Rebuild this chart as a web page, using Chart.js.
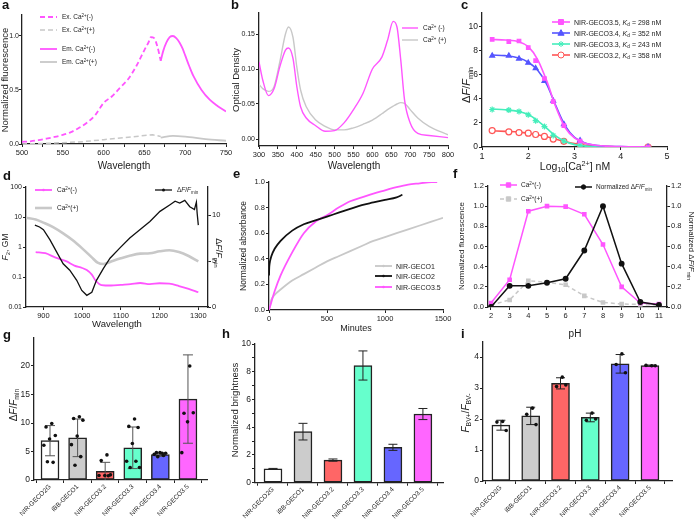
<!DOCTYPE html>
<html><head><meta charset="utf-8">
<script src="https://cdn.jsdelivr.net/npm/chart.js"></script>
<style>
html,body{margin:0;padding:0;background:#fff;}
#fig{position:relative;width:696px;height:522px;overflow:hidden;background:#fff;}
.lt{position:absolute;font:bold 13px "Liberation Sans",Arial,sans-serif;color:#111;line-height:13px;}
</style></head><body><div id="fig"></div>
<script>
// ---- a: excitation / emission ----
const aExWl = [500,510,520,530,540,550,560,570,580,590,600,610,620,630,640,650,655,658,662,666,670];
const aExMinus = [0.02,0.025,0.035,0.05,0.065,0.085,0.11,0.15,0.2,0.27,0.38,0.44,0.52,0.6,0.72,0.87,0.94,0.99,0.98,0.9,0.77];
const aExPlusWl = [500,525,550,575,600,625,650,660,670];
const aExPlus = [0.0,0.005,0.012,0.022,0.04,0.058,0.078,0.085,0.07];
const aEmWl = [670,673,677,681,685,689,693,697,700,705,710,720,730,740,750];
const aEmMinus = [0.77,0.86,0.94,0.99,1.0,0.98,0.94,0.88,0.82,0.72,0.63,0.5,0.41,0.35,0.3];
const aEmPlusWl = [670,685,700,725,750];
const aEmPlus = [0.06,0.075,0.068,0.045,0.03];
const aXTicks = [500,525,550,575,600,625,650,675,700,725,750];
const aYTicks = [0,0.5,1.0];

// ---- b: absorbance ----
const bWl = [300,310,325,340,355,370,378,390,400,410,425,450,475,500,525,550,575,600,625,640,655,665,675,685,700,720,750,800];
const bMinus = [0.11,0.084,0.062,0.072,0.103,0.127,0.13,0.115,0.075,0.046,0.03,0.019,0.011,0.012,0.023,0.042,0.065,0.10,0.117,0.141,0.168,0.16,0.113,0.056,0.023,0.008,0.005,0.002];
const bPlus = [0.078,0.072,0.068,0.075,0.11,0.15,0.16,0.145,0.103,0.07,0.046,0.027,0.018,0.013,0.013,0.016,0.021,0.027,0.036,0.042,0.047,0.05,0.052,0.051,0.042,0.03,0.018,0.006];
const bXTicks = [300,350,400,450,500,550,600,650,700,750,800];
const bYTicks = [0,0.05,0.1,0.15];

// ---- c: calcium titration ----
const cLog = [1.22,1.58,1.8,2.0,2.16,2.35,2.54,2.77,3.12,4.59];
const c35 = [8.96,8.77,8.82,8.27,7.18,5.7,3.78,1.78,0.49,0.0];
const c34 = [7.6,7.6,7.35,7.0,6.55,5.5,3.85,1.9,0.55,0.0];
const c33 = [3.12,3.07,2.96,2.68,2.19,1.7,0.96,0.5,0.14,0.0];
const c32 = [1.37,1.26,1.2,1.15,1.04,0.88,0.66,0.47,0.22,0.0];
const cFitX = [1.22,1.5,1.8,2.0,2.2,2.4,2.6,2.8,3.0,3.2,3.5,4.0,4.6];
const cFit35 = [8.95,8.9,8.75,8.35,7.3,5.5,3.3,1.6,0.75,0.35,0.12,0.03,0.0];
const cFit34 = [7.65,7.6,7.4,7.05,6.4,5.2,3.4,1.75,0.8,0.38,0.12,0.03,0.0];
const cFit33 = [3.15,3.1,2.95,2.7,2.2,1.55,0.9,0.45,0.2,0.09,0.03,0.01,0.0];
const cFit32 = [1.35,1.3,1.24,1.15,1.02,0.85,0.64,0.45,0.28,0.17,0.07,0.02,0.0];
const cXTicks = [1,2,3,4,5];
const cYTicks = [0,2,4,6,8,10];

// ---- d: two-photon ----
const dWlMinus = [880,905,930,960,980,1000,1012,1025,1035,1050,1075,1100,1125,1150,1175,1200,1225,1250,1275,1300];
const dMinus = [0.68,0.62,0.45,0.33,0.24,0.2,0.17,0.12,0.075,0.054,0.052,0.055,0.058,0.063,0.058,0.062,0.06,0.05,0.04,0.031];
const dWlPlus = [855,880,900,925,950,975,1000,1025,1040,1055,1075,1100,1125,1150,1175,1200,1225,1250,1275,1300];
const dPlus = [9.5,8.3,6.5,4.6,2.9,1.7,0.9,0.45,0.3,0.27,0.33,0.42,0.52,0.6,0.62,0.72,0.78,0.68,0.5,0.33];
const dWlRatio = [878,890,900,917,934,951,968,986,999,1012,1025,1037,1055,1072,1097,1123,1149,1175,1201,1226,1240,1252,1265,1278,1290,1295,1297,1300];
const dRatio = [8.9,8.7,8.4,7.3,6.0,4.7,4.0,2.9,1.8,1.27,1.6,2.9,4.2,5.3,6.4,7.5,8.4,9.3,10.4,11.1,11.5,11.3,11.6,10.9,10.6,11.4,10.2,8.9];
const dXTicks = [900,1000,1100,1200,1300];
const dYTicks = [0.01,0.1,1,10,100];
const dY2Ticks = [0,5,10];

// ---- e: maturation ----
const eMin1 = [0,20,50,100,200,300,400,500,600,700,800,900,1000,1100,1200,1300,1400,1500];
const eGeco1 = [0,0.08,0.12,0.16,0.23,0.28,0.33,0.38,0.42,0.46,0.5,0.54,0.57,0.6,0.63,0.66,0.69,0.72];
const eMin2 = [0,2,5,20,50,100,200,300,400,500,600,700,800,900,1000,1100,1150];
const eGeco2 = [0.27,0.33,0.36,0.42,0.48,0.54,0.62,0.67,0.70,0.73,0.76,0.79,0.82,0.84,0.86,0.88,0.9];
const eMin35 = [0,50,100,200,300,400,500,600,700,800,900,1000,1100,1200,1300,1400,1450];
const eGeco35 = [0,0.15,0.27,0.45,0.6,0.69,0.74,0.8,0.85,0.88,0.91,0.935,0.96,0.98,0.99,1.0,1.0];
const eXTicks = [0,500,1000,1500];
const eYTicks = [0,0.2,0.4,0.6,0.8,1.0];

// ---- f: pH ----
const fPH = [2,3,4,5,6,7,8,9,10,11];
const fMinus = [0.04,0.27,0.95,1.0,0.995,0.92,0.62,0.2,0.04,0.03];
const fPlus = [0.02,0.07,0.26,0.245,0.22,0.11,0.045,0.03,0.025,0.02];
const fRatio = [0.0,0.21,0.21,0.24,0.28,0.56,1.0,0.43,0.05,0.02];
const fYTicks = [0,0.2,0.4,0.6,0.8,1.0,1.2];

// ---- g/h/i: variants ----
const cats = ['NIR-GECO2G','iBB-GECO1','NIR-GECO3.2','NIR-GECO3.3','NIR-GECO3.4','NIR-GECO3.5'];
const gMean = [6.9,7.4,1.5,5.65,4.45,14.2];
const gSd = [2.65,3.3,1.6,3.65,0.3,7.75];
const gDots = [[9.9,9.3,7.8,7.2,6.1,3.1,3.2],[11.1,10.8,10.5,7.7,6.2,4.1,2.6],[4.4,3.4,0.9,0.8,0.8,0.75],
  [10.7,9.4,9.2,6.4,3.3,3.3,2.2,2.2],[4.7,4.8,4.7,4.8,4.5,4.3,4.1],[20.0,11.7,11.8,10.2,4.8]];
const gYTicks = [0,5,10,15,20];
const hMean = [1.0,3.68,1.63,8.45,2.55,4.95];
const hSd = [0.03,0.6,0.08,1.05,0.22,0.4];
const hYTicks = [0,1,2,3,4,5,6,7,8,9,10];
const iMean = [1.8,2.1,3.15,2.05,3.78,3.72];
const iSd = [0.16,0.28,0.18,0.14,0.3,0.02];
const iDots = [[1.92,1.9,1.63],[2.35,2.15,1.82],[3.35,3.05,3.1],[2.19,1.96,2.0],[4.1,3.76,3.49],[3.72,3.73,3.72]];
const iYTicks = [0,1,2,3,4];

const INK = '#222';
const MAG = '#ff55ff', GRY = '#c8c8c8', BLUE = '#5555ff', GRN = '#44eebb', RED = '#ff5555';
const BARS = ['#ffffff','#cccccc','#ff6666','#66ffcc','#6666ff','#ff66ff'];
const FONT = '"Liberation Sans", Arial, sans-serif';
const fig = document.getElementById('fig');

Chart.defaults.font.family = FONT;
Chart.defaults.color = INK;
Chart.defaults.elements.point.radius = 0;
Chart.defaults.elements.line.tension = 0;
Chart.defaults.plugins.legend.display = false;
Chart.defaults.plugins.tooltip.enabled = false;

const xy = (xs, ys) => xs.map((x, i) => ({x, y: ys[i]}));
const idx = cats.map((c, i) => i);
const f1 = v => v.toFixed(1), f2 = v => v.toFixed(2), fs = v => String(v);

function ax(pos, min, max, ticks, label, extra, tickExtra) {
  return Object.assign({
    type: 'linear', position: pos, min, max,
    afterBuildTicks: s => { s.ticks = ticks.map(v => ({value: v})); },
    grid: {drawOnChartArea: false, tickLength: 3, color: INK, lineWidth: 1},
    border: {color: INK, width: 1.3},
    ticks: Object.assign({color: INK, font: {size: 7.5}, padding: 1, maxRotation: 0, minRotation: 0, autoSkip: false, callback: label}, tickExtra || {})
  }, extra || {});
}

function parseRich(s) {
  const segs = []; let it = false, i = 0, buf = '';
  const push = (t, mode) => { if (t) segs.push({t, it, mode}); };
  while (i < s.length) {
    const c = s[i];
    if (c === '*') { push(buf, 0); buf = ''; it = !it; i++; }
    else if ((c === '^' || c === '_') && s[i + 1] === '{') {
      push(buf, 0); buf = '';
      const j = s.indexOf('}', i);
      push(s.slice(i + 2, j), c === '^' ? 1 : -1);
      i = j + 1;
    } else { buf += c; i++; }
  }
  push(buf, 0);
  return segs;
}

function rich(ctx, s, x, y, size, rot, align) {
  const segs = parseRich(s);
  const fontOf = g => (g.it ? 'italic ' : '') + (g.mode ? size * 0.68 : size) + 'px ' + FONT;
  ctx.save();
  ctx.translate(x, y); ctx.rotate(rot);
  ctx.textBaseline = 'alphabetic'; ctx.fillStyle = INK;
  let w = 0;
  segs.forEach(g => { ctx.font = fontOf(g); g.w = ctx.measureText(g.t).width; w += g.w; });
  let cx = align === 'left' ? 0 : -w / 2;
  const base = size * 0.36;
  segs.forEach(g => {
    ctx.font = fontOf(g);
    ctx.fillText(g.t, cx, base + (g.mode === 1 ? -size * 0.38 : g.mode === -1 ? size * 0.24 : 0));
    cx += g.w;
  });
  ctx.restore();
}

function marker(ctx, style, x, y, r) {
  ctx.beginPath();
  if (style === 'rect') ctx.rect(x - r, y - r, 2 * r, 2 * r);
  else if (style === 'triangle') { ctx.moveTo(x, y - r * 1.2); ctx.lineTo(x + r * 1.1, y + r * 0.8); ctx.lineTo(x - r * 1.1, y + r * 0.8); ctx.closePath(); }
  else if (style === 'star') {
    const d = r * 0.7;
    ctx.moveTo(x - r, y); ctx.lineTo(x + r, y); ctx.moveTo(x, y - r); ctx.lineTo(x, y + r);
    ctx.moveTo(x - d, y - d); ctx.lineTo(x + d, y + d); ctx.moveTo(x - d, y + d); ctx.lineTo(x + d, y - d);
    ctx.stroke(); return;
  }
  else ctx.arc(x, y, r, 0, Math.PI * 2);
  ctx.fill(); ctx.stroke();
}

function legendItem(chart, it, box) {
  const ctx = chart.ctx, ds = chart.data.datasets[it.ds];
  const pd = chart.data.datasets[it.pt != null ? it.pt : it.ds];
  const x = it.x - box.x, y = it.y - box.y, len = it.len || 17;
  ctx.save();
  ctx.strokeStyle = ds.borderColor; ctx.lineWidth = ds.borderWidth || 1.5;
  ctx.setLineDash(ds.borderDash || []);
  ctx.beginPath(); ctx.moveTo(x, y); ctx.lineTo(x + len, y); ctx.stroke();
  ctx.setLineDash([]);
  if (pd.pointRadius > 0) {
    ctx.fillStyle = pd.pointBackgroundColor || pd.borderColor;
    ctx.strokeStyle = pd.pointBorderColor || pd.borderColor;
    ctx.lineWidth = 1;
    marker(ctx, pd.pointStyle || 'circle', x + len / 2, y, pd.pointRadius);
  } else if (it.dot) {
    ctx.fillStyle = ds.borderColor;
    ctx.beginPath(); ctx.arc(x + len / 2, y, it.dot, 0, Math.PI * 2); ctx.fill();
  }
  ctx.restore();
  rich(ctx, it.s, x + len + (it.gap || 5), y, it.size || 6.5, 0, 'left');
}

function decor(box, texts, legend) {
  return {
    id: 'decor',
    afterDraw(chart) {
      legend.forEach(it => legendItem(chart, it, box));
      texts.forEach(t => rich(chart.ctx, t.s, t.x - box.x, t.y - box.y, t.size, t.rot || 0, 'center'));
    }
  };
}

function barExtras(means, sds, dots, color, capW) {
  return {
    id: 'barExtras',
    afterDatasetsDraw(chart) {
      const {ctx, scales: {x, y}} = chart;
      ctx.save();
      ctx.strokeStyle = color; ctx.lineWidth = 1;
      means.forEach((m, i) => {
        const px = x.getPixelForValue(i), top = y.getPixelForValue(m + sds[i]);
        const lo = m - sds[i], bot = y.getPixelForValue(Math.max(lo, 0));
        ctx.beginPath();
        ctx.moveTo(px, top); ctx.lineTo(px, bot);
        ctx.moveTo(px - capW / 2, top); ctx.lineTo(px + capW / 2, top);
        if (lo > 0) { ctx.moveTo(px - capW / 2, bot); ctx.lineTo(px + capW / 2, bot); }
        ctx.stroke();
      });
      ctx.fillStyle = '#111';
      (dots || []).forEach((vals, i) => vals.forEach((v, k) => {
        const off = (((k + 1) * 0.618) % 1 - 0.5) * 15;
        ctx.beginPath();
        ctx.arc(x.getPixelForValue(i) + off, y.getPixelForValue(v), 1.8, 0, Math.PI * 2);
        ctx.fill();
      }));
      ctx.restore();
    }
  };
}

function panel(box, area, cfg, texts, legend, extra) {
  const cv = document.createElement('canvas');
  cv.width = box.w; cv.height = box.h;
  cv.style.cssText = `position:absolute;left:${box.x}px;top:${box.y}px;width:${box.w}px;height:${box.h}px;`;
  fig.appendChild(cv);
  const sc = cfg.options.scales;
  const hasRight = Object.values(sc).some(s => s.position === 'right');
  Object.values(sc).forEach(s => {
    s.afterFit = scale => {
      if (scale.isHorizontal()) scale.height = box.y + box.h - area.b;
      else if (scale.position === 'right') scale.width = box.x + box.w - area.r;
      else scale.width = area.l - box.x;
      scale.paddingLeft = 0; scale.paddingRight = 0; scale.paddingTop = 0; scale.paddingBottom = 0;
    };
  });
  cfg.options.layout = {padding: {top: area.t - box.y, left: 0, bottom: 0, right: hasRight ? 0 : box.x + box.w - area.r}};
  cfg.options.responsive = false;
  cfg.options.animation = false;
  cfg.options.devicePixelRatio = 1;
  cfg.plugins = [decor(box, texts || [], legend || [])].concat(extra || []);
  return new Chart(cv, cfg);
}

function letter(ch, x, base) {
  const d = document.createElement('div');
  d.className = 'lt'; d.textContent = ch;
  d.style.left = x + 'px'; d.style.top = (base - 11) + 'px';
  fig.appendChild(d);
}

// a
panel({x: 0, y: 0, w: 232, h: 172}, {l: 22, t: 14.4, r: 226, b: 144}, {
  type: 'line',
  data: {datasets: [
    {data: xy(aExWl, aExMinus), borderColor: MAG, borderWidth: 1.8, borderDash: [5, 3], cubicInterpolationMode: 'monotone'},
    {data: xy(aExPlusWl, aExPlus), borderColor: GRY, borderWidth: 1.5, borderDash: [5, 3]},
    {data: xy(aEmWl, aEmMinus), borderColor: MAG, borderWidth: 1.8, cubicInterpolationMode: 'monotone'},
    {data: xy(aEmPlusWl, aEmPlus), borderColor: GRY, borderWidth: 1.8, cubicInterpolationMode: 'monotone'}
  ]},
  options: {scales: {
    x: ax('bottom', 500, 750, aXTicks, v => v % 50 === 0 ? v : ''),
    y: ax('left', 0, 1.2, aYTicks, f1, null, {font: {size: 7}, padding: 0})
  }}
}, [
  {s: 'Normalized fluorescence', x: 4.5, y: 80, size: 9.5, rot: -Math.PI / 2},
  {s: 'Wavelength', x: 124, y: 165, size: 10}
], [
  {ds: 0, x: 40, y: 17, s: 'Ex. Ca^{2+}(-)'},
  {ds: 1, x: 40, y: 30, s: 'Ex. Ca^{2+}(+)'},
  {ds: 2, x: 40, y: 49, s: 'Em. Ca^{2+}(-)'},
  {ds: 3, x: 40, y: 62, s: 'Em. Ca^{2+}(+)'}
]);

// b
panel({x: 228, y: 0, w: 232, h: 172}, {l: 259, t: 13, r: 448, b: 146}, {
  type: 'line',
  data: {datasets: [
    {data: xy(bWl, bMinus), borderColor: MAG, borderWidth: 1.4, cubicInterpolationMode: 'monotone'},
    {data: xy(bWl, bPlus), borderColor: GRY, borderWidth: 1.4, cubicInterpolationMode: 'monotone'}
  ]},
  options: {scales: {
    x: ax('bottom', 300, 800, bXTicks, fs),
    y: ax('left', -0.01, 0.18, bYTicks, f2, null, {font: {size: 7}})
  }}
}, [
  {s: 'Optical Density', x: 236, y: 80, size: 9.5, rot: -Math.PI / 2},
  {s: 'Wavelength', x: 354, y: 165, size: 10}
], [
  {ds: 0, x: 402, y: 28, len: 16, s: 'Ca^{2+} (-)'},
  {ds: 1, x: 402, y: 40, len: 16, s: 'Ca^{2+} (+)'}
]);

// c
const cPts = (data, color, style, r, bg) => ({data: xy(cLog, data), showLine: false, borderColor: color, pointStyle: style,
  pointRadius: r, pointBackgroundColor: bg || color, pointBorderColor: color, pointBorderWidth: 1.2});
const cFit = (data, color) => ({data: xy(cFitX, data), borderColor: color, borderWidth: 1.6, cubicInterpolationMode: 'monotone'});
panel({x: 458, y: 0, w: 238, h: 172}, {l: 482, t: 13, r: 667, b: 147}, {
  type: 'line',
  data: {datasets: [
    cPts(c35, MAG, 'rect', 2.5), cFit(cFit35, MAG),
    cPts(c34, BLUE, 'triangle', 2.8), cFit(cFit34, BLUE),
    cPts(c33, GRN, 'star', 3), cFit(cFit33, GRN),
    cPts(c32, RED, 'circle', 3, '#ffffff'), cFit(cFit32, RED)
  ]},
  options: {scales: {
    x: ax('bottom', 1, 5, cXTicks, fs, null, {font: {size: 9}}),
    y: ax('left', 0, 11.15, cYTicks, fs, null, {font: {size: 8.5}})
  }}
}, [
  {s: 'Δ*F*/*F*_{min}', x: 466, y: 85, size: 11, rot: -Math.PI / 2},
  {s: 'Log_{10}[Ca^{2+}] nM', x: 575, y: 166, size: 10.5}
], [
  {ds: 1, pt: 0, x: 552, y: 22, len: 18, gap: 4, size: 7, s: 'NIR-GECO3.5, *K*_{d} = 298 nM'},
  {ds: 3, pt: 2, x: 552, y: 33, len: 18, gap: 4, size: 7, s: 'NIR-GECO3.4, *K*_{d} = 352 nM'},
  {ds: 5, pt: 4, x: 552, y: 44, len: 18, gap: 4, size: 7, s: 'NIR-GECO3.3, *K*_{d} = 243 nM'},
  {ds: 7, pt: 6, x: 552, y: 55, len: 18, gap: 4, size: 7, s: 'NIR-GECO3.2, *K*_{d} = 358 nM'}
]);

// d
panel({x: 0, y: 172, w: 232, h: 168}, {l: 26, t: 187, r: 208, b: 307}, {
  type: 'line',
  data: {datasets: [
    {data: xy(dWlRatio, dRatio), borderColor: '#111', borderWidth: 1.3, yAxisID: 'y2'},
    {data: xy(dWlMinus, dMinus), borderColor: MAG, borderWidth: 1.8, cubicInterpolationMode: 'monotone', yAxisID: 'y'},
    {data: xy(dWlPlus, dPlus), borderColor: GRY, borderWidth: 2.6, cubicInterpolationMode: 'monotone', yAxisID: 'y'}
  ]},
  options: {scales: {
    x: ax('bottom', 855, 1325, dXTicks, fs),
    y: ax('left', 0.01, 100, dYTicks, fs, {type: 'logarithmic'}, {font: {size: 7}}),
    y2: ax('right', 0, 13.05, dY2Ticks, fs)
  }}
}, [
  {s: '*F*_{2}, GM', x: 5, y: 247, size: 8.5, rot: -Math.PI / 2},
  {s: 'Δ*F*/*F*_{min}', x: 219, y: 253, size: 9, rot: Math.PI / 2},
  {s: 'Wavelength', x: 117, y: 324, size: 9.5}
], [
  {ds: 1, x: 35, y: 190, dot: 1.3, s: 'Ca^{2+}(-)'},
  {ds: 2, x: 35, y: 208, s: 'Ca^{2+}(+)'},
  {ds: 0, x: 155, y: 190, dot: 1.5, s: 'Δ*F*/*F*_{min}'}
]);

// e
panel({x: 228, y: 172, w: 232, h: 168}, {l: 269, t: 182, r: 443, b: 310}, {
  type: 'line',
  data: {datasets: [
    {data: xy(eMin2, eGeco2), borderColor: '#111', borderWidth: 1.8, cubicInterpolationMode: 'monotone'},
    {data: xy(eMin35, eGeco35), borderColor: MAG, borderWidth: 1.8, cubicInterpolationMode: 'monotone'},
    {data: xy(eMin1, eGeco1), borderColor: GRY, borderWidth: 1.8, cubicInterpolationMode: 'monotone'}
  ]},
  options: {scales: {
    x: ax('bottom', 0, 1500, eXTicks, fs),
    y: ax('left', 0, 1.0, eYTicks, f1)
  }}
}, [
  {s: 'Normalized absorbance', x: 243, y: 246, size: 8.5, rot: -Math.PI / 2},
  {s: 'Minutes', x: 356, y: 328, size: 9}
], [
  {ds: 2, x: 375, y: 266, dot: 1.3, gap: 4, size: 7, s: 'NIR-GECO1'},
  {ds: 0, x: 375, y: 276, dot: 1.3, gap: 4, size: 7, s: 'NIR-GECO2'},
  {ds: 1, x: 375, y: 287, dot: 1.3, gap: 4, size: 7, s: 'NIR-GECO3.5'}
]);

// f
panel({x: 458, y: 172, w: 238, h: 168}, {l: 488, t: 186, r: 667, b: 307}, {
  type: 'line',
  data: {datasets: [
    {data: xy(fPH, fRatio), borderColor: '#111', borderWidth: 1.5, pointStyle: 'circle', pointRadius: 2.2, pointBackgroundColor: '#111', yAxisID: 'y2'},
    {data: xy(fPH, fMinus), borderColor: MAG, borderWidth: 1.5, pointStyle: 'rect', pointRadius: 2.2, pointBackgroundColor: MAG, yAxisID: 'y'},
    {data: xy(fPH, fPlus), borderColor: GRY, borderWidth: 1.5, borderDash: [4, 3], pointStyle: 'rect', pointRadius: 2.2, pointBackgroundColor: GRY, yAxisID: 'y'}
  ]},
  options: {scales: {
    x: ax('bottom', 1.84, 11.43, fPH, fs),
    y: ax('left', 0, 1.2, fYTicks, f1),
    y2: ax('right', 0, 1.2, fYTicks, f1)
  }}
}, [
  {s: 'Normalized fluorescence', x: 461, y: 246, size: 8, rot: -Math.PI / 2},
  {s: 'Normalized Δ*F*/*F*_{min}', x: 692, y: 246, size: 8, rot: Math.PI / 2},
  {s: 'pH', x: 575, y: 333, size: 10}
], [
  {ds: 1, x: 500, y: 185, gap: 4, s: 'Ca^{2+}(-)'},
  {ds: 2, x: 500, y: 199, gap: 4, s: 'Ca^{2+}(+)'},
  {ds: 0, x: 575, y: 187, gap: 4, s: 'Normalized Δ*F*/*F*_{min}'}
]);

// g, h, i bar panels
function barPanel(xmin, xmax, ymax, means, yTicks, yLabel) {
  return {
    type: 'bar',
    data: {datasets: [{data: xy(idx, means), backgroundColor: BARS, borderColor: INK, borderWidth: 1.5, borderSkipped: false, barThickness: 18}]},
    options: {scales: {
      x: ax('bottom', xmin, xmax, idx, v => cats[v], {offset: false},
        {font: {size: 6.5}, maxRotation: 45, minRotation: 45, padding: 0}),
      y: ax('left', 0, ymax, yTicks, yLabel, null, {font: {size: 8.5}})
    }}
  };
}
panel({x: 0, y: 330, w: 232, h: 192}, {l: 34, t: 337.5, r: 207, b: 480},
  barPanel(-0.58, 5.69, 25, gMean, gYTicks, fs),
  [{s: 'Δ*F*/*F*_{min}', x: 13, y: 405, size: 10, rot: -Math.PI / 2}], [],
  [barExtras(gMean, gSd, gDots, '#555', 10)]);
panel({x: 228, y: 330, w: 232, h: 192}, {l: 255, t: 344, r: 443, b: 482.7},
  barPanel(-0.6, 5.67, 10, hMean, hYTicks, v => v % 2 === 0 ? v : ''),
  [{s: 'Normalized brightness', x: 235, y: 410, size: 9.5, rot: -Math.PI / 2}], [],
  [barExtras(hMean, hSd, null, INK, 9)]);
panel({x: 458, y: 330, w: 238, h: 192}, {l: 483, t: 341.5, r: 672, b: 481},
  barPanel(-0.6, 5.74, 4.5, iMean, iYTicks, fs),
  [{s: '*F*_{BV+}/*F*_{BV-}', x: 465, y: 413, size: 10, rot: -Math.PI / 2}], [],
  [barExtras(iMean, iSd, iDots, INK, 9)]);

[['a', 2, 8.5], ['b', 231, 8.5], ['c', 461, 8.5], ['d', 3, 180], ['e', 233, 178], ['f', 453, 178],
 ['g', 3, 339], ['h', 222, 338], ['i', 461, 338]].forEach(l => letter(l[0], l[1], l[2]));
</script></body></html>
